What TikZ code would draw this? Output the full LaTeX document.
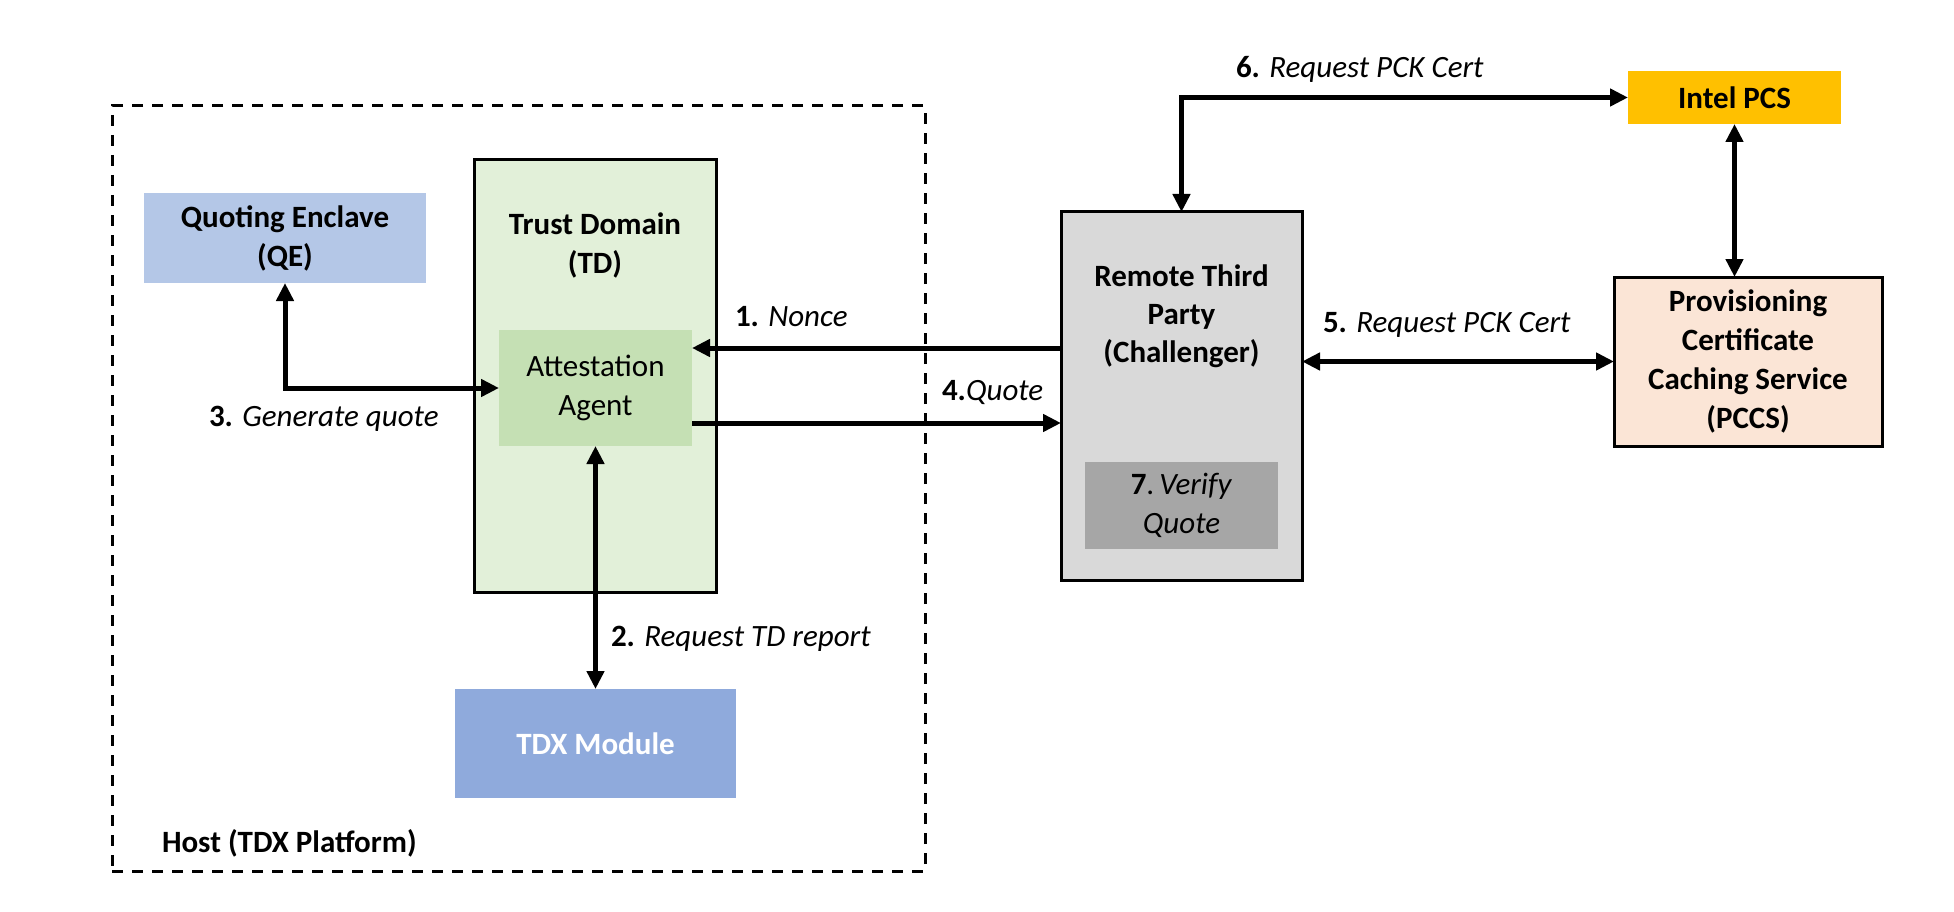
\documentclass[tikz,border=0pt]{standalone}
\usepackage{fontspec}
\setmainfont{Carlito}
\usetikzlibrary{arrows.meta}
\definecolor{qeblue}{HTML}{B4C7E7}
\definecolor{tdgreen}{HTML}{E2F0D9}
\definecolor{aagreen}{HTML}{C5E0B4}
\definecolor{tdxblue}{HTML}{8FAADC}
\definecolor{rtpgray}{HTML}{D9D9D9}
\definecolor{vqgray}{HTML}{A6A6A6}
\definecolor{intelorange}{HTML}{FFC000}
\definecolor{pccspeach}{HTML}{FBE5D6}
\begin{document}
\begin{tikzpicture}[x=1pt,y=-1pt,
  txt/.style={inner sep=0pt, outer sep=0pt, font=\fontsize{31}{39}\selectfont},
  box/.style={txt, align=center, font=\fontsize{31}{39}\selectfont\bfseries},
  frame/.style={draw, line width=3pt},
  arr/.style={line width=5pt, -{Triangle[length=18pt 0,width=17pt 0]}},
  darr/.style={line width=5pt, {Triangle[length=18pt 0,width=17pt 0]}-{Triangle[length=18pt 0,width=17pt 0]}}
]
\useasboundingbox (0,0) rectangle (1954,912);
\fill[white] (0,0) rectangle (1954,912);

% host
\node[draw, line width=3pt, dash pattern=on 11pt off 9pt, minimum width=813pt, minimum height=765pt, inner sep=0pt, outer sep=0pt] (host) at (518.5,488.5) {};
\node[box, anchor=west] (hostl) at (162,843) {Host (TDX Platform)};

% QE
\node[box, fill=qeblue, minimum width=282pt, minimum height=90pt] (qe) at (285,238) {Quoting Enclave\\(QE)};

% TD
\node[box, frame, fill=tdgreen, minimum width=242pt, minimum height=432pt] (td) at (595,376) {};
\node[box] (tdt) at (595,245) {Trust Domain\\(TD)};
\node[txt, align=center, fill=aagreen, minimum width=193pt, minimum height=116pt] (aa) at (595.5,388) {Attestation\\Agent};

% TDX module
\node[box, fill=tdxblue, text=white, minimum width=281pt, minimum height=109pt] (tdx) at (595.5,743.5) {TDX Module};

% RTP
\node[box, frame, fill=rtpgray, minimum width=241pt, minimum height=368pt] (rtp) at (1181.5,396) {};
\node[box, font=\fontsize{31}{38}\selectfont\bfseries] (rtpt) at (1181.5,316) {Remote Third\\Party\\(Challenger)};
\node[txt, align=center, fill=vqgray, minimum width=193pt, minimum height=87pt] (vq) at (1181.5,505.5) {\textbf{7}.\,\textit{Verify}\\\textit{Quote}};

% Intel PCS
\node[box, fill=intelorange, minimum width=213pt, minimum height=53pt] (pcs) at (1734.5,97.5) {Intel PCS};

% PCCS
\node[box, frame, fill=pccspeach, minimum width=268pt, minimum height=169pt] (pccs) at (1748,361.5) {Provisioning\\Certificate\\Caching Service\\(PCCS)};

% connectors
\coordinate (n1) at ([yshift=-18pt]aa.north east);
\coordinate (q4) at ([yshift=23pt]aa.south east);
\draw[arr] (rtp.west |- n1) -- (n1);
\draw[arr] (q4) -- (rtp.west |- q4);
\draw[darr] (qe.south) |- (aa.west);
\draw[darr] (aa.south) -- (tdx.north);
\draw[darr] (rtp.north) |- (pcs.west);
\draw[darr] (rtp.east |- pccs.west) -- (pccs.west);
\draw[darr] (pcs.south) -- (pcs.south |- pccs.north);

% labels
\node[txt, anchor=west] (l1) at (735,317) {\textbf{1.} \textit{Nonce}};
\node[txt, anchor=west] (l2) at (611,639) {\textbf{2.} \textit{Request TD report}};
\node[txt, anchor=west] (l3) at (209,419) {\textbf{3.} \textit{Generate quote}};
\node[txt, anchor=west] (l4) at (942,392) {\textbf{4.}\textit{Quote}};
\node[txt, anchor=west] (l5) at (1323,325) {\textbf{5.} \textit{Request PCK Cert}};
\node[txt, anchor=west] (l6) at (1236,69) {\textbf{6.} \textit{Request PCK Cert}};
\end{tikzpicture}
\end{document}
